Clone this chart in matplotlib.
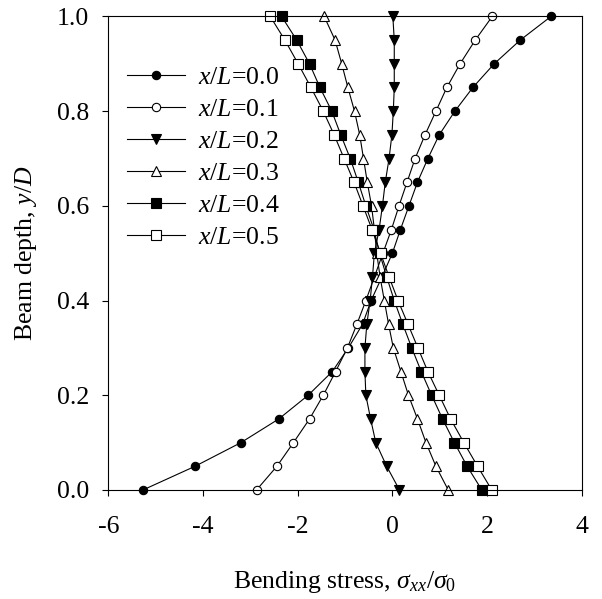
import numpy as np
import matplotlib
matplotlib.use("Agg")
from matplotlib import pyplot as plt

plt.rcParams['font.family'] = ['Liberation Serif', 'DejaVu Serif']
plt.rcParams['mathtext.fontset'] = 'custom'
plt.rcParams['mathtext.rm'] = 'Liberation Serif'
plt.rcParams['mathtext.it'] = 'Liberation Serif:italic'
plt.rcParams['axes.unicode_minus'] = False

# beam depth positions y/D
depth = [0.00, 0.05, 0.10, 0.15, 0.20, 0.25, 0.30, 0.35, 0.40, 0.45, 0.50,
         0.55, 0.60, 0.65, 0.70, 0.75, 0.80, 0.85, 0.90, 0.95, 1.00]

# bending stress sigma_xx/sigma_0 for each x/L
stress_00 = [-5.27, -4.17, -3.20, -2.40, -1.78, -1.27, -0.93, -0.63, -0.45, -0.22, 0.00,
             0.17, 0.35, 0.53, 0.75, 0.99, 1.32, 1.70, 2.15, 2.70, 3.35]
stress_01 = [-2.87, -2.44, -2.09, -1.75, -1.46, -1.20, -0.95, -0.75, -0.56, -0.38, -0.20,
             -0.02, 0.14, 0.31, 0.48, 0.69, 0.92, 1.15, 1.43, 1.75, 2.11]
stress_02 = [0.15, -0.12, -0.35, -0.46, -0.56, -0.58, -0.58, -0.54, -0.47, -0.42, -0.38,
             -0.28, -0.21, -0.15, -0.07, -0.01, 0.02, 0.04, 0.04, 0.04, 0.01]
stress_03 = [1.18, 0.92, 0.71, 0.53, 0.34, 0.18, 0.02, -0.08, -0.17, -0.26, -0.33,
             -0.38, -0.44, -0.53, -0.61, -0.69, -0.80, -0.94, -1.07, -1.21, -1.44]
stress_04 = [1.89, 1.58, 1.31, 1.06, 0.83, 0.61, 0.41, 0.22, 0.04, -0.12, -0.27,
             -0.39, -0.56, -0.72, -0.89, -1.09, -1.28, -1.53, -1.75, -2.02, -2.34]
stress_05 = [2.10, 1.80, 1.51, 1.23, 0.99, 0.75, 0.54, 0.33, 0.12, -0.07, -0.25,
             -0.43, -0.62, -0.81, -1.02, -1.23, -1.46, -1.72, -1.99, -2.27, -2.58]

labels = [r'$x/L$=0.0', r'$x/L$=0.1', r'$x/L$=0.2',
          r'$x/L$=0.3', r'$x/L$=0.4', r'$x/L$=0.5']
series = [stress_00, stress_01, stress_02, stress_03, stress_04, stress_05]
markers = ['o', 'o', 'v', '^', 's', 's']
faces = ['black', 'white', 'black', 'white', 'black', 'white']
sizes = [6, 6, 7, 7, 6.5, 6.5]

x_ticks = [-6, -4, -2, 0, 2, 4]
y_ticks = [0.0, 0.2, 0.4, 0.6, 0.8, 1.0]

FS = 18.5

fig = plt.figure(figsize=(6.02, 5.99), dpi=100)
ax = fig.add_axes([0.18, 0.182, 0.7863, 0.7905])

for vals, lab, m, fc, ms in zip(series, labels, markers, faces, sizes):
    ax.plot(vals, depth, color='black', lw=0.8, marker=m, markersize=ms,
            markerfacecolor=fc, markeredgecolor='black', markeredgewidth=0.8,
            label=lab, clip_on=False)

ax.set_xlim(-6, 4)
ax.set_ylim(0, 1)
ax.set_xticks(x_ticks)
ax.set_xticklabels([str(t) for t in x_ticks])
ax.set_yticks(y_ticks)
ax.set_yticklabels(['%.1f' % t for t in y_ticks])
ax.tick_params(axis='both', direction='out', length=4, width=0.8, labelsize=FS)
ax.tick_params(axis='x', pad=15)
ax.tick_params(axis='y', pad=10)
for s in ax.spines.values():
    s.set_linewidth(0.8)

ax.set_xlabel(r'Bending stress, $\sigma_{xx}/\sigma_{\mathit{0}}$', fontsize=FS, labelpad=22)
ax.set_ylabel(r'Beam depth, $y/D$', fontsize=FS, labelpad=13)

ax.legend(loc='upper left', bbox_to_anchor=(0.04, 0.896), frameon=False,
          fontsize=FS, handlelength=2.25, handletextpad=0.5, labelspacing=0.35,
          borderpad=0, borderaxespad=0)

fig.savefig('out.png', dpi=100)
